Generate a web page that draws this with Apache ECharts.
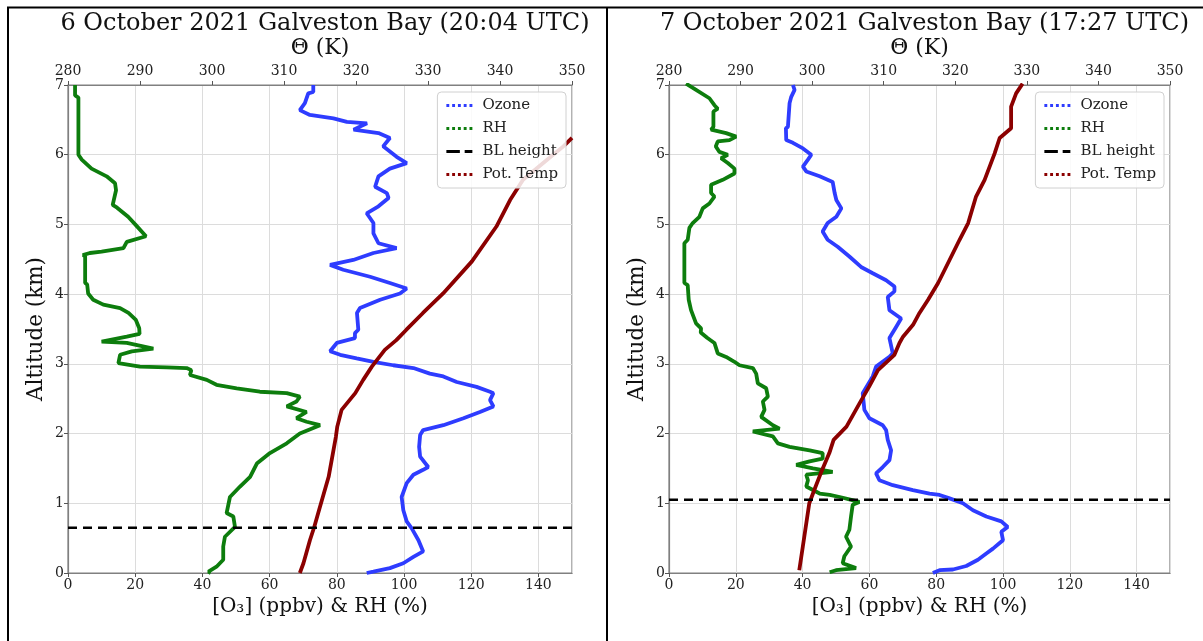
<!DOCTYPE html>
<html>
<head>
<meta charset="utf-8">
<script src="https://cdn.jsdelivr.net/npm/echarts@6/dist/echarts.min.js"></script>
<style>
  html, body { margin: 0; padding: 0; background: #fff; }
  #chart { width: 1203px; height: 641px; }
</style>
</head>
<body>
<div id="chart"></div>
<script>
// ---- 6 October 2021 (20:04 UTC) ----
var o3Alt6 = [7.0, 6.9, 6.88, 6.74, 6.64, 6.57, 6.52, 6.47, 6.45, 6.36, 6.31, 6.24, 6.12, 5.97, 5.88, 5.8, 5.69, 5.54, 5.45, 5.38, 5.26, 5.16, 5.02, 4.87, 4.73, 4.66, 4.59, 4.49, 4.42, 4.35, 4.25, 4.16, 4.08, 4.01, 3.92, 3.8, 3.73, 3.49, 3.44, 3.37, 3.3, 3.18, 3.13, 3.08, 3.03, 2.98, 2.94, 2.86, 2.82, 2.74, 2.67, 2.6, 2.58, 2.48, 2.39, 2.31, 2.22, 2.12, 2.05, 1.98, 1.81, 1.67, 1.52, 1.48, 1.41, 1.29, 1.09, 0.9, 0.74, 0.64, 0.47, 0.31, 0.23, 0.14, 0.07, 0.02, 0];
var o3Val6 = [73, 73, 71.5, 70.5, 69, 72, 79, 83, 89, 85, 92.4, 95.8, 93.8, 97.8, 100.8, 95.8, 92.4, 91.4, 94.9, 95.4, 92.4, 88.9, 90.9, 90.9, 92.4, 97.8, 90.9, 84.9, 78, 81.9, 89.9, 95.8, 100.8, 98.8, 92.9, 86.9, 86, 86.4, 85.4, 85.4, 80, 78, 81, 85.9, 90.9, 96.8, 102.8, 107.7, 111.7, 115.7, 121.6, 125.6, 126.6, 125.6, 126.6, 122.6, 117.7, 111.7, 105.7, 104.8, 104.5, 104.8, 107.2, 105.7, 102.8, 100.8, 99.3, 99.8, 100.8, 102.3, 104.3, 105.7, 102.8, 99.8, 95.8, 90.9, 88.9];

var rhAlt6 = [7.0, 6.85, 6.82, 6.0, 5.93, 5.8, 5.69, 5.59, 5.49, 5.28, 5.24, 5.11, 4.99, 4.83, 4.75, 4.66, 4.61, 4.59, 4.56, 4.55, 4.16, 4.14, 4.01, 3.92, 3.85, 3.8, 3.73, 3.63, 3.51, 3.43, 3.39, 3.32, 3.3, 3.22, 3.18, 3.13, 3.01, 2.96, 2.95, 2.94, 2.91, 2.84, 2.77, 2.7, 2.65, 2.6, 2.58, 2.53, 2.46, 2.39, 2.31, 2.22, 2.17, 2.12, 2.0, 1.86, 1.72, 1.57, 1.38, 1.24, 1.09, 0.86, 0.81, 0.66, 0.52, 0.38, 0.19, 0.09, 0.02, 0];
var rhVal6 = [2.1, 2.1, 3.1, 3.1, 4.1, 7, 11.5, 14, 14.3, 13.3, 14.6, 17.9, 20.2, 23.2, 17.5, 16.5, 10, 6.5, 4.4, 5.1, 5.1, 5.7, 6, 7.5, 10.5, 15.5, 18, 20.2, 21.2, 21.3, 17.5, 10, 17.5, 25.4, 19, 15.5, 15, 21.4, 29.4, 35.3, 36.7, 36.3, 41.3, 44.2, 50.2, 57.1, 65.1, 69, 68, 65.1, 71, 68, 71, 75, 69, 65.1, 60.1, 56.2, 54.2, 51.2, 48.2, 47.2, 49.2, 49.7, 46.7, 46.2, 46.2, 44.2, 41.8, 42.5];

var thAlt6 = [0, 0.14, 0.47, 0.66, 0.95, 1.38, 1.95, 2.1, 2.34, 2.58, 2.77, 2.96, 3.2, 3.34, 3.49, 3.73, 4.01, 4.47, 4.97, 5.35, 5.64, 5.88, 6.12, 6.24];
var thVal6 = [312.2, 312.7, 313.6, 314.2, 315, 316.2, 317.2, 317.4, 318.0, 319.9, 321, 322.2, 324, 325.6, 327, 329.3, 332.1, 336.1, 339.5, 341.4, 343.2, 346, 348.8, 350];

var blHeight6 = 0.65;

// ---- 7 October 2021 (17:27 UTC) ----
var o3Alt7 = [7.0, 6.93, 6.83, 6.74, 6.4, 6.38, 6.21, 6.17, 6.09, 6.0, 5.93, 5.83, 5.76, 5.69, 5.61, 5.45, 5.35, 5.23, 5.11, 5.02, 4.9, 4.78, 4.68, 4.54, 4.39, 4.3, 4.2, 4.11, 4.04, 3.96, 3.77, 3.65, 3.53, 3.37, 3.15, 3.1, 2.96, 2.82, 2.58, 2.34, 2.22, 2.12, 2.05, 1.91, 1.76, 1.62, 1.52, 1.43, 1.33, 1.26, 1.19, 1.14, 1.12, 1.07, 1.0, 0.9, 0.81, 0.74, 0.66, 0.59, 0.47, 0.43, 0.35, 0.28, 0.19, 0.1, 0.05, 0.04, 0];
var o3Val7 = [37.1, 37.6, 36.6, 36.1, 35.6, 35, 35.1, 37.1, 40.1, 42.6, 41.6, 40.1, 41.1, 45.1, 49, 49.6, 50.1, 51.6, 50.1, 47.5, 46, 47.5, 50.5, 54, 57.5, 61, 65, 67.5, 67.5, 65.5, 66, 69.5, 68, 66, 67, 66, 62, 61, 58, 58.5, 60, 64, 65, 65.5, 66.5, 66, 64, 62, 63, 67, 73, 78, 81, 84, 88, 91, 95, 99.5, 101.4, 99.5, 100, 99, 97, 95, 92.5, 89, 85, 81, 79];

var rhAlt7 = [7.02, 6.93, 6.81, 6.71, 6.66, 6.62, 6.4, 6.36, 6.31, 6.26, 6.21, 6.19, 6.12, 6.04, 6.0, 5.95, 5.88, 5.8, 5.73, 5.64, 5.57, 5.45, 5.4, 5.3, 5.23, 5.11, 5.02, 4.95, 4.78, 4.73, 4.16, 4.13, 3.92, 3.77, 3.58, 3.51, 3.45, 3.37, 3.3, 3.15, 3.1, 3.03, 2.98, 2.94, 2.86, 2.72, 2.65, 2.53, 2.46, 2.34, 2.24, 2.12, 2.07, 2.03, 1.96, 1.86, 1.81, 1.76, 1.72, 1.64, 1.6, 1.55, 1.5, 1.45, 1.41, 1.33, 1.24, 1.14, 1.12, 1.09, 1.05, 1.02, 0.98, 0.81, 0.62, 0.52, 0.38, 0.24, 0.14, 0.07, 0.04, 0.01];
var rhVal7 = [5.1, 8.1, 12.1, 13.6, 14.6, 13.3, 13.3, 12.6, 17.1, 20.1, 18.1, 14.6, 14, 15.1, 17.6, 15.6, 17.6, 19.6, 19.6, 16.1, 12.6, 12.6, 13.6, 12.1, 10.1, 9.1, 7.1, 6.1, 5.6, 4.6, 4.6, 5.6, 5.9, 6.6, 8.1, 9.6, 9.5, 11.5, 13.6, 14.6, 17.1, 19.6, 21.1, 25.1, 26.1, 26.6, 29.1, 29.6, 28.1, 28.6, 27.6, 31.1, 33.1, 25.1, 31.1, 32.6, 36.1, 42.1, 46, 46, 42.1, 38.1, 43.1, 49, 41.1, 41.6, 41.1, 45.1, 48.1, 51.1, 54.6, 57, 55, 54.5, 54, 53, 54.5, 52.5, 52, 56, 50, 48.1];

var thAlt7 = [0.04, 0.38, 1.0, 1.19, 1.43, 1.72, 1.91, 2.1, 2.43, 2.68, 2.91, 3.13, 3.3, 3.39, 3.56, 3.73, 3.92, 4.16, 4.49, 4.78, 5.02, 5.4, 5.64, 6.02, 6.24, 6.38, 6.69, 6.88, 7.02];
var thVal7 = [298.2, 298.7, 299.6, 300.3, 301.2, 302.4, 303, 304.8, 306.6, 308, 309.2, 311.5, 312.2, 312.7, 314.1, 315, 316.2, 317.6, 319.2, 320.6, 321.8, 322.9, 324.1, 325.5, 326.2, 327.8, 327.8, 328.5, 329.4];

var blHeight7 = 1.05;

// ---- axes / labels ----
var titles = ['6 October 2021 Galveston Bay (20:04 UTC)', '7 October 2021 Galveston Bay (17:27 UTC)'];
var concRange = [0, 150];
var thetaRange = [280, 350];
var altRange = [0, 7];

var FONT = 'DejaVu Serif';
var BLUE = '#2e3cff';
var GREEN = '#0d7d0d';
var RED = '#8b0000';

// legend glyphs: a row of dots, and a long+short dash
var DOTS = 'path://M0,0h3v3h-3z M6,0h3v3h-3z M12,0h3v3h-3z M18,0h3v3h-3z M24,0h3v3h-3z';
var DASH = 'path://M0,0h14v3h-14z M19,0h8v3h-8z';

function zip(vals, alts) {
  return vals.map(function (v, i) { return [v, alts[i]]; });
}

var grids = [
  { left: 68, width: 504, top: 85, height: 488 },
  { left: 669, width: 501, top: 85, height: 488 }
];

var xAxes = [];
var yAxes = [];
var titleList = [];
var legends = [];
grids.forEach(function (g, i) {
  g.show = true;
  g.borderColor = '#808080';
  g.borderWidth = 1.2;
  xAxes.push({
    type: 'value', gridIndex: i, position: 'bottom',
    min: concRange[0], max: concRange[1], interval: 20,
    name: '[O\u2083] (ppbv) & RH (%)', nameLocation: 'middle', nameGap: 24,
    nameTextStyle: { fontFamily: FONT, fontSize: 20, color: '#111' },
    axisLine: { show: true, lineStyle: { color: '#808080', width: 1.2 } },
    axisTick: { show: true, length: 4, lineStyle: { color: '#555' } },
    axisLabel: { fontFamily: FONT, fontSize: 14, color: '#222', margin: 5, showMaxLabel: false },
    splitLine: { show: true, lineStyle: { color: '#dcdcdc', width: 1 } }
  });
  xAxes.push({
    type: 'value', gridIndex: i, position: 'top',
    min: thetaRange[0], max: thetaRange[1], interval: 10,
    name: '\u0398 (K)', nameLocation: 'middle', nameGap: 23,
    nameTextStyle: { fontFamily: FONT, fontSize: 22, color: '#111' },
    axisLine: { show: true, lineStyle: { color: '#808080', width: 1.2 } },
    axisTick: { show: true, length: 4, lineStyle: { color: '#555' } },
    axisLabel: { fontFamily: FONT, fontSize: 14, color: '#222', margin: 7 },
    splitLine: { show: false }
  });
  yAxes.push({
    type: 'value', gridIndex: i,
    min: altRange[0], max: altRange[1], interval: 1,
    name: 'Altitude (km)', nameLocation: 'middle', nameGap: 21,
    nameTextStyle: { fontFamily: FONT, fontSize: 21.5, color: '#111' },
    axisLine: { show: true, lineStyle: { color: '#808080', width: 1.2 } },
    axisTick: { show: true, length: 4, lineStyle: { color: '#555' } },
    axisLabel: { fontFamily: FONT, fontSize: 14, color: '#222', margin: 4 },
    splitLine: { show: true, lineStyle: { color: '#dcdcdc', width: 1 } }
  });
  titleList.push({
    text: titles[i], left: g.left + g.width / 2, top: 7, textAlign: 'center',
    textStyle: { fontFamily: FONT, fontSize: 24, fontWeight: 'normal', color: '#111' }
  });
  legends.push({
    orient: 'vertical', right: 1203 - (g.left + g.width) + 6, top: 92,
    itemWidth: 26, itemHeight: 3, itemGap: 8,
    padding: [6, 8, 6, 9],
    borderColor: '#d0d0d0', borderWidth: 1, borderRadius: 4,
    backgroundColor: 'rgba(255,255,255,0.85)',
    textStyle: { fontFamily: FONT, fontSize: 15, color: '#222', padding: [0, 0, 0, 5], lineHeight: 15 },
    data: [
      { name: 'Ozone', icon: DOTS },
      { name: 'RH', icon: DOTS },
      { name: 'BL height', icon: DASH },
      { name: 'Pot. Temp', icon: DOTS }
    ]
  });
});

function curve(name, color, xi, yi, data) {
  return {
    name: name, type: 'line', xAxisIndex: xi, yAxisIndex: yi,
    data: data, symbol: 'none', smooth: false,
    lineStyle: { color: color, width: 3.8 },
    itemStyle: { color: color },
    clip: true
  };
}
function blLine(xi, yi, h) {
  return {
    name: 'BL height', type: 'line', xAxisIndex: xi, yAxisIndex: yi,
    data: [[concRange[0], h], [concRange[1], h]], symbol: 'none',
    lineStyle: { color: '#000', width: 2.5, type: [9, 6] },
    itemStyle: { color: '#000' }, z: 5
  };
}

var series = [
  curve('Ozone', BLUE, 0, 0, zip(o3Val6, o3Alt6)),
  curve('RH', GREEN, 0, 0, zip(rhVal6, rhAlt6)),
  blLine(0, 0, blHeight6),
  curve('Pot. Temp', RED, 1, 0, zip(thVal6, thAlt6)),
  curve('Ozone', BLUE, 2, 1, zip(o3Val7, o3Alt7)),
  curve('RH', GREEN, 2, 1, zip(rhVal7, rhAlt7)),
  blLine(2, 1, blHeight7),
  curve('Pot. Temp', RED, 3, 1, zip(thVal7, thAlt7))
];

var chart = echarts.init(document.getElementById('chart'));
chart.setOption({
  backgroundColor: '#fff',
  animation: false,
  title: titleList,
  legend: legends,
  grid: grids,
  xAxis: xAxes,
  yAxis: yAxes,
  series: series,
  graphic: [
    { type: 'line', shape: { x1: 7, y1: 7.5, x2: 1203, y2: 7.5 }, style: { stroke: '#000', lineWidth: 2 }, z: 100 },
    { type: 'line', shape: { x1: 8, y1: 7, x2: 8, y2: 641 }, style: { stroke: '#000', lineWidth: 2 }, z: 100 },
    { type: 'line', shape: { x1: 607, y1: 7, x2: 607, y2: 641 }, style: { stroke: '#000', lineWidth: 2 }, z: 100 }
  ]
});
</script>
</body>
</html>
